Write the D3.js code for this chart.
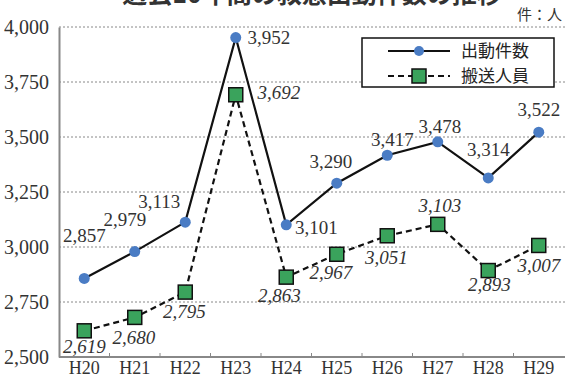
<!DOCTYPE html>
<html><head><meta charset="utf-8">
<script src="https://cdn.jsdelivr.net/npm/d3@7"></script>
<style>
html,body{margin:0;padding:0;background:#fff;}
svg{display:block;}
</style></head>
<body>
<svg id="c" width="565" height="378"></svg>
<script>
const categories = ["H20","H21","H22","H23","H24","H25","H26","H27","H28","H29"];
const dispatches = [2857,2979,3113,3952,3101,3290,3417,3478,3314,3522];
const transported = [2619,2680,2795,3692,2863,2967,3051,3103,2893,3007];
const yTicks = [2500,2750,3000,3250,3500,3750,4000];
const seriesNames = ["出動件数","搬送人員"];
const unitLabel = "件：人";
const titleText = "過去10年間の救急出動件数の推移";

// label placement (layout only): [dx, dy] relative to point, text-anchor middle
const dispLabelOff = [[0,-36],[-10,-26],[-26,-14],[33,6],[30,9],[-6,-15],[5,-9],[2,-9],[0,-22],[0,-16]];
const transLabelOff = [[0,22],[-1,27],[-1,26],[43,4],[-7,25],[-6,25],[-1,28],[2,-12],[1,20],[0,27]];

(function(){
const svg = d3.select("#c");
const L = 59, R = 564, T = 27, B = 357;
const x = d3.scaleBand().domain(categories).range([L, R]).padding(0);
const y = d3.scaleLinear().domain([2500, 4000]).range([B, T]);
const cx = c => x(c) + x.bandwidth()/2;
const serif = "'Liberation Serif','Times New Roman',serif";
const cjk = "'Noto Sans CJK JP','Noto Sans CJK SC',sans-serif";

// title (cut off at top, as in the reference)
svg.append("text").attr("x", 312).attr("y", 3).attr("text-anchor","middle")
  .attr("font-family", cjk).attr("font-size", 25).attr("font-weight", 700).attr("fill","#333")
  .text(titleText);
svg.append("text").attr("x", 562).attr("y", 20).attr("text-anchor","end")
  .attr("font-family", cjk).attr("font-size", 15).attr("fill","#333")
  .text(unitLabel);

// gridlines
svg.append("g").selectAll("line").data(yTicks.filter(d => d > 2500)).join("line")
  .attr("x1", L).attr("x2", 565).attr("y1", d => y(d)).attr("y2", d => y(d))
  .attr("stroke", "#888").attr("stroke-width", 1).attr("stroke-dasharray", "2,2");

// y axis
const ya = svg.append("g").attr("transform", `translate(${L},0)`)
  .call(d3.axisLeft(y).tickValues(yTicks).tickFormat(d3.format(",")).tickSize(0).tickPadding(10));
ya.select(".domain").attr("stroke", "#888").attr("stroke-width", 2);
ya.selectAll("text").attr("font-family", serif).attr("font-size", 20).attr("fill", "#333");

// x axis
const xa = svg.append("g").attr("transform", `translate(0,${B})`)
  .call(d3.axisBottom(x).tickSize(0).tickPadding(4));
xa.select(".domain").attr("stroke", "#888").attr("stroke-width", 2).attr("d", `M${L},0H565`);
xa.selectAll("text").attr("font-family", serif).attr("font-size", 18).attr("fill", "#333");
svg.append("g").selectAll("line").data(categories.slice(1)).join("line")
  .attr("x1", d => x(d)).attr("x2", d => x(d)).attr("y1", B).attr("y2", B - 4)
  .attr("stroke", "#888").attr("stroke-width", 1);

// lines
const line = d3.line().x((d,i) => cx(categories[i])).y(d => y(d));
svg.append("path").datum(transported).attr("d", line).attr("fill","none")
  .attr("stroke","#111").attr("stroke-width", 2.2).attr("stroke-dasharray","6,4");
svg.append("path").datum(dispatches).attr("d", line).attr("fill","none")
  .attr("stroke","#111").attr("stroke-width", 2.2);

// markers
const sq = 14;
svg.append("g").selectAll("rect").data(transported).join("rect")
  .attr("x", (d,i) => cx(categories[i]) - sq/2).attr("y", d => y(d) - sq/2)
  .attr("width", sq).attr("height", sq)
  .attr("fill", "#3aa35c").attr("stroke", "#111").attr("stroke-width", 1.5);
svg.append("g").selectAll("circle").data(dispatches).join("circle")
  .attr("cx", (d,i) => cx(categories[i])).attr("cy", d => y(d)).attr("r", 5.5)
  .attr("fill", "#4a7cc4");

// labels
const fmt = d3.format(",");
svg.append("g").selectAll("text").data(dispatches).join("text")
  .attr("x", (d,i) => cx(categories[i]) + dispLabelOff[i][0])
  .attr("y", (d,i) => y(d) + dispLabelOff[i][1])
  .attr("text-anchor","middle").attr("font-family", serif).attr("font-size", 19).attr("fill","#333")
  .text(d => fmt(d));
svg.append("g").selectAll("text").data(transported).join("text")
  .attr("x", (d,i) => cx(categories[i]) + transLabelOff[i][0])
  .attr("y", (d,i) => y(d) + transLabelOff[i][1])
  .attr("text-anchor","middle").attr("font-family", serif).attr("font-style","italic")
  .attr("font-size", 19).attr("fill","#333")
  .text(d => fmt(d));

// legend
const lg = svg.append("g");
lg.append("rect").attr("x", 362).attr("y", 38).attr("width", 192).attr("height", 49)
  .attr("fill","#fff").attr("stroke","#111").attr("stroke-width", 1.5);
const rows = [{y: 51, dash: null, name: seriesNames[0], mark: "c"}, {y: 76, dash: "6,4", name: seriesNames[1], mark: "s"}];
rows.forEach(r => {
  lg.append("line").attr("x1", 388).attr("x2", 450).attr("y1", r.y).attr("y2", r.y)
    .attr("stroke","#111").attr("stroke-width", 2.2).attr("stroke-dasharray", r.dash);
  if (r.mark === "c") lg.append("circle").attr("cx", 419).attr("cy", r.y).attr("r", 5).attr("fill","#4a7cc4");
  else lg.append("rect").attr("x", 412).attr("y", r.y - 7).attr("width", 14).attr("height", 14)
    .attr("fill","#3aa35c").attr("stroke","#111").attr("stroke-width", 1.5);
  lg.append("text").attr("x", 461).attr("y", r.y).attr("dy","0.36em")
    .attr("font-family", cjk).attr("font-size", 17).attr("fill","#222").text(r.name);
});
})();
</script>
</body></html>
